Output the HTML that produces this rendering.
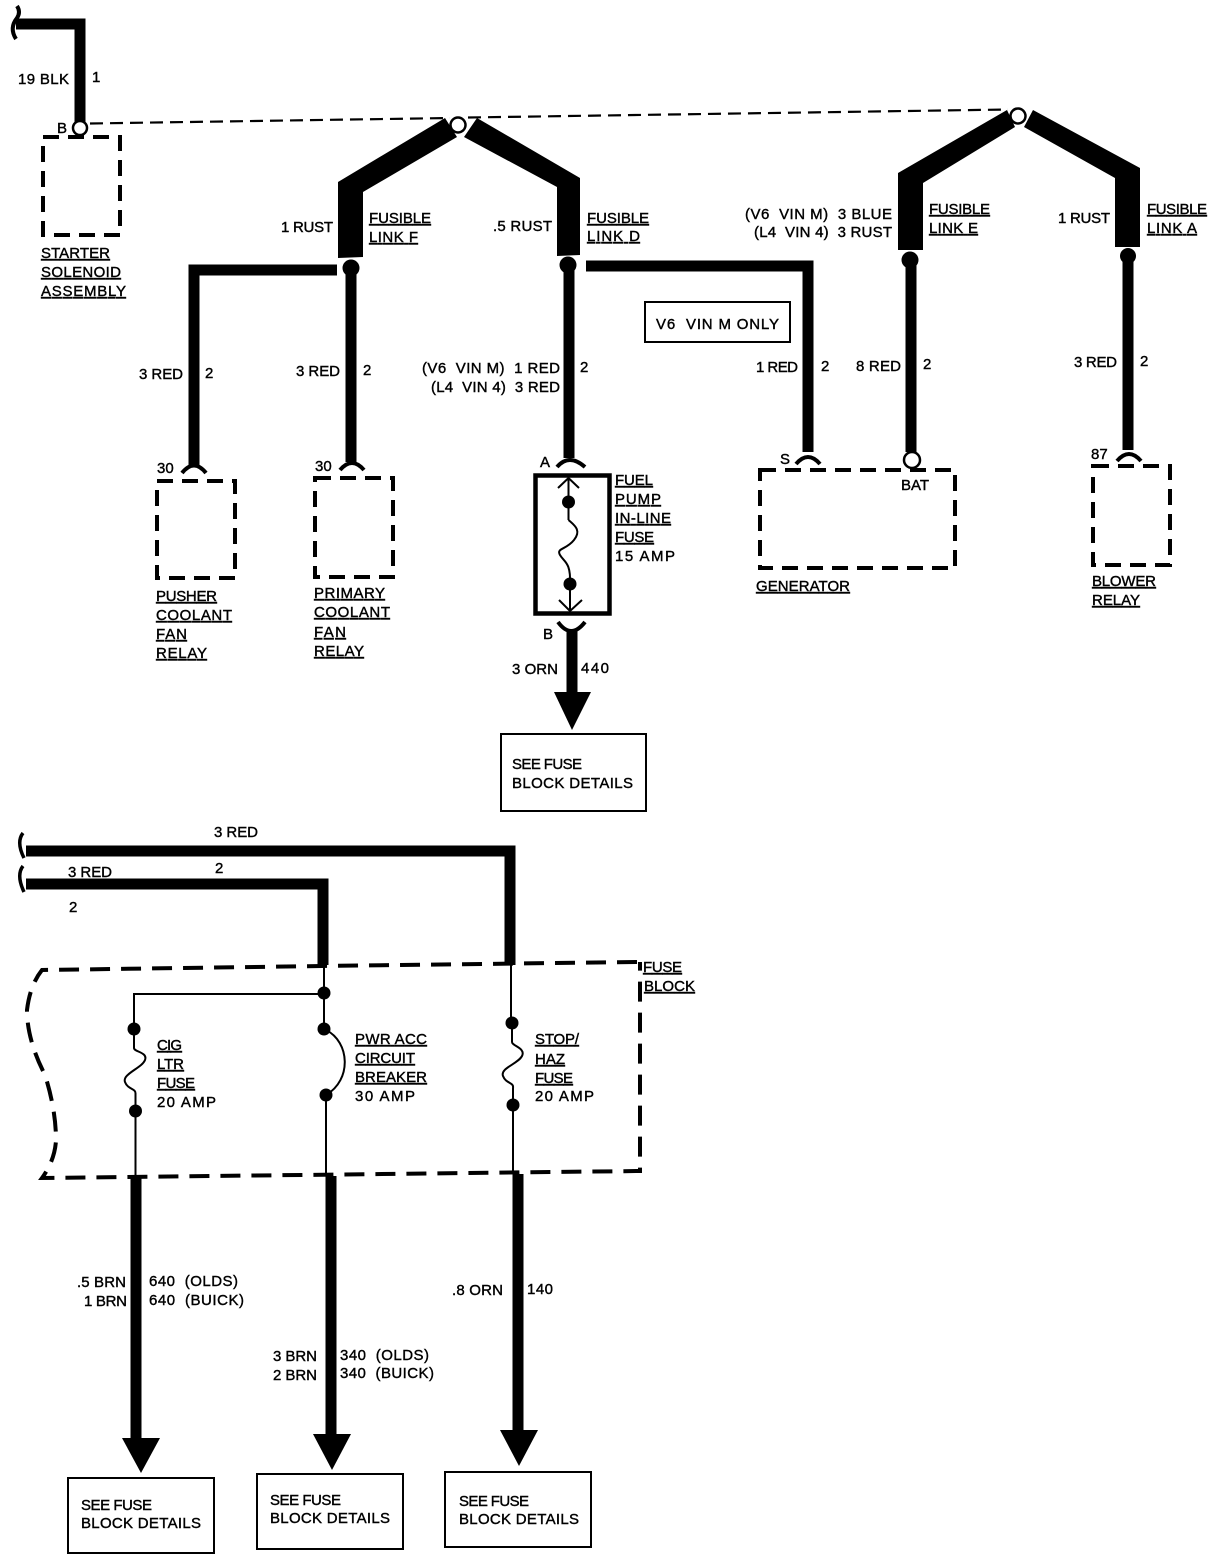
<!DOCTYPE html>
<html><head><meta charset="utf-8"><style>
html,body{margin:0;padding:0;background:#fff}
svg{display:block}
text{font-family:"Liberation Sans",sans-serif;font-size:15px;fill:#000;font-weight:400;stroke:#000;stroke-width:.4px;white-space:pre}
.u{text-decoration:underline}
</style></head><body>
<svg width="1216" height="1560" viewBox="0 0 1216 1560" xmlns="http://www.w3.org/2000/svg">
<g fill="none" stroke="#000" stroke-linejoin="miter">
<!-- top left -->
<path d="M16 24H80V122" stroke-width="11"/>
<path d="M17 6Q21 12 17 18Q9 28 16 39" stroke-width="4"/>
<!-- dashed line -->
<path d="M90 123.5L450 118M468 117.5L1008 109.5" stroke-width="2.2" stroke-dasharray="13 7"/>
<!-- wires -->
<path d="M337 270H194V466" stroke-width="11"/>
<path d="M351 268V462" stroke-width="11"/>
<path d="M569 268V458" stroke-width="11"/>
<path d="M586 266H808V452" stroke-width="11"/>
<path d="M911 262V452" stroke-width="11"/>
<path d="M1128 256V450" stroke-width="11"/>
<!-- caps -->
<path d="M182 473Q194 458 206 473M340 470Q352 456 364 470M557 467Q569 453 585 467M796 464Q808 450 820 464M1117 461Q1129 447 1141 461" stroke-width="4"/>
<!-- dashed comps -->
<g stroke-width="4" stroke-dasharray="16 9">
<rect x="43" y="137" width="77" height="98"/>
<rect x="157" y="481" width="78" height="97"/>
<rect x="315" y="478" width="78" height="99"/>
<rect x="760" y="470" width="195" height="98"/>
<rect x="1093" y="466" width="77" height="99"/>
</g>
<!-- inline fuse -->
<rect x="535.5" y="475.5" width="74" height="138" stroke-width="4.5"/>
<path d="M568.5 478V520M570 584V612" stroke-width="2"/>
<path d="M568.5 520C574 525 582 530 574 540S556 548 560 555S571 562 570 584" stroke-width="2"/>
<path d="M558 488L568.5 478L579 488M559 600L570 611L582 600" stroke-width="2"/>
<path d="M558 622Q571 640 585 622" stroke-width="4"/>
<path d="M572 630V695" stroke-width="11"/>
<!-- see boxes -->
<rect x="501" y="734" width="145" height="77" stroke-width="2"/>
<rect x="68" y="1478" width="146" height="75" stroke-width="2"/>
<rect x="257" y="1474" width="146" height="75" stroke-width="2"/>
<rect x="445" y="1472" width="146" height="75" stroke-width="2"/>
<rect x="645" y="302" width="145" height="40" stroke-width="2"/>
<!-- lower -->
<path d="M26 851H510V965" stroke-width="11"/>
<path d="M26 884H323V965" stroke-width="11"/>
<path d="M23 833Q16 842 24 858M23 866Q16 875 24 892" stroke-width="3.5"/>
<path d="M637 962L322 966L42 970Q30 985 27 1010Q27 1040 45 1075Q56 1110 56 1140Q55 1160 42 1178L640 1171V962" stroke-width="4" stroke-dasharray="20 11"/>
<path d="M324 994H134V1029" stroke-width="2"/>
<path d="M324 966V1029M511 965V1022" stroke-width="2"/>
<path d="M134 1029V1048C134 1052 148 1052 145 1060S122 1074 125 1082S136 1088 135.500 1094V1178" stroke-width="2"/>
<path d="M326 1030C350 1042 352 1080 326 1095V1176" stroke-width="2"/>
<path d="M512 1024V1042C512 1046 526 1048 522 1056S500 1068 503 1076S514 1082 513 1088V1174" stroke-width="2"/>
<path d="M136 1178V1442" stroke-width="11"/>
<path d="M331 1176V1436" stroke-width="11"/>
<path d="M518 1174V1434" stroke-width="11"/>
</g>
<g fill="#000">
<!-- fusible chevrons -->
<path d="M338 182L445 118L457 137L363 192V257L338 258Z"/>
<path d="M477 118L580 178V255L557 256V187L464 137Z"/>
<path d="M898 173L1007 110L1015 127L923 183V250H898Z"/>
<path d="M1033 110L1140 168V247H1115V178L1024 127Z"/>
</g>
<g fill="#fff" stroke="#000" stroke-width="2.5">
<circle cx="80" cy="128" r="7"/><circle cx="458" cy="125" r="7.500"/><circle cx="1018" cy="116" r="7.500"/><circle cx="912" cy="460" r="8"/>
</g>
<g fill="#000">
<circle cx="351" cy="268" r="8.500"/><circle cx="568" cy="265" r="8.500"/><circle cx="910" cy="260" r="8.500"/><circle cx="1128" cy="256" r="8"/>
<circle cx="568.500" cy="502" r="6.500"/><circle cx="570" cy="584" r="6.500"/>
<circle cx="324" cy="993" r="6.500"/><circle cx="324" cy="1029" r="6.500"/><circle cx="326" cy="1095" r="6.500"/>
<circle cx="134" cy="1029" r="6.500"/><circle cx="135.500" cy="1111" r="6.500"/><circle cx="512" cy="1023" r="6.500"/><circle cx="513" cy="1105" r="6.500"/>
<path d="M554 692H591L572 730Z"/><path d="M122 1438H160L141 1473Z"/><path d="M313 1434H351L332 1470Z"/><path d="M500 1430H538L519 1466Z"/>
</g>
<text x="18" y="84" textLength="51">19 BLK</text><text x="92" y="82">1</text><text x="57" y="133">B</text>
<text x="41" y="258" class="u" textLength="69">STARTER</text><text x="41" y="277" class="u" textLength="80">SOLENOID</text><text x="41" y="296" class="u" textLength="85">ASSEMBLY</text>
<text x="281" y="232" textLength="52">1 RUST</text><text x="369" y="223" class="u" textLength="62">FUSIBLE</text><text x="369" y="242" class="u" textLength="49">LINK F</text>
<text x="493" y="231" textLength="59">.5 RUST</text><text x="587" y="223" class="u" textLength="62">FUSIBLE</text><text x="587" y="241" class="u" textLength="53">LINK D</text>
<text x="745" y="219" textLength="147">(V6  VIN M)  3 BLUE</text><text x="754" y="237" textLength="138">(L4  VIN 4)  3 RUST</text>
<text x="929" y="214" class="u" textLength="61">FUSIBLE</text><text x="929" y="233" class="u" textLength="49">LINK E</text>
<text x="1058" y="223" textLength="52">1 RUST</text><text x="1147" y="214" class="u" textLength="60">FUSIBLE</text><text x="1147" y="233" class="u" textLength="50">LINK A</text>
<text x="656" y="329" textLength="123">V6  VIN M ONLY</text>
<text x="139" y="379" textLength="44">3 RED</text><text x="205" y="378">2</text>
<text x="296" y="376" textLength="44">3 RED</text><text x="363" y="375">2</text>
<text x="422" y="373" textLength="138">(V6  VIN M)  1 RED</text><text x="431" y="392" textLength="129">(L4  VIN 4)  3 RED</text><text x="580" y="372">2</text>
<text x="756" y="372" textLength="42">1 RED</text><text x="821" y="371">2</text>
<text x="856" y="371" textLength="45">8 RED</text><text x="923" y="369">2</text>
<text x="1074" y="367" textLength="43">3 RED</text><text x="1140" y="366">2</text>
<text x="157" y="473">30</text><text x="315" y="471">30</text><text x="540" y="467">A</text><text x="780" y="464">S</text><text x="1091" y="459">87</text><text x="901" y="490">BAT</text>
<text x="156" y="601" class="u" textLength="61">PUSHER</text><text x="156" y="620" class="u" textLength="76">COOLANT</text><text x="156" y="639" class="u" textLength="31">FAN</text><text x="156" y="658" class="u" textLength="51">RELAY</text>
<text x="314" y="598" class="u" textLength="71">PRIMARY</text><text x="314" y="617" class="u" textLength="76">COOLANT</text><text x="314" y="637" class="u" textLength="32">FAN</text><text x="314" y="656" class="u" textLength="50">RELAY</text>
<text x="615" y="485" class="u" textLength="38">FUEL</text><text x="615" y="504" class="u" textLength="46">PUMP</text><text x="615" y="523" class="u" textLength="56">IN-LINE</text><text x="615" y="542" class="u" textLength="39">FUSE</text><text x="615" y="561" textLength="60">15 AMP</text>
<text x="756" y="591" class="u" textLength="94">GENERATOR</text>
<text x="1092" y="586" class="u" textLength="64">BLOWER</text><text x="1092" y="605" class="u" textLength="48">RELAY</text>
<text x="543" y="639">B</text><text x="512" y="674" textLength="46">3 ORN</text><text x="581" y="673" textLength="28">440</text>
<text x="512" y="769" textLength="70">SEE FUSE</text><text x="512" y="788" textLength="121">BLOCK DETAILS</text>
<text x="214" y="837" textLength="44">3 RED</text><text x="68" y="877" textLength="44">3 RED</text><text x="215" y="873">2</text><text x="69" y="912">2</text>
<text x="643" y="972" class="u" textLength="39">FUSE</text><text x="644" y="991" class="u" textLength="51">BLOCK</text>
<text x="157" y="1050" class="u" textLength="25">CIG</text><text x="157" y="1069" class="u" textLength="27">LTR</text><text x="157" y="1088" class="u" textLength="38">FUSE</text><text x="157" y="1107" textLength="59">20 AMP</text>
<text x="355" y="1044" class="u" textLength="72">PWR ACC</text><text x="355" y="1063" class="u" textLength="60">CIRCUIT</text><text x="355" y="1082" class="u" textLength="72">BREAKER</text><text x="355" y="1101" textLength="60">30 AMP</text>
<text x="535" y="1044" class="u" textLength="44">STOP/</text><text x="535" y="1064" class="u" textLength="30">HAZ</text><text x="535" y="1083" class="u" textLength="38">FUSE</text><text x="535" y="1101" textLength="59">20 AMP</text>
<text x="77" y="1287" textLength="49">.5 BRN</text><text x="84" y="1306" textLength="43">1 BRN</text><text x="149" y="1286" textLength="89">640  (OLDS)</text><text x="149" y="1305" textLength="95">640  (BUICK)</text>
<text x="273" y="1361" textLength="44">3 BRN</text><text x="273" y="1380" textLength="44">2 BRN</text><text x="340" y="1360" textLength="89">340  (OLDS)</text><text x="340" y="1378" textLength="94">340  (BUICK)</text>
<text x="452" y="1295" textLength="51">.8 ORN</text><text x="527" y="1294" textLength="26">140</text>
<text x="81" y="1510" textLength="71">SEE FUSE</text><text x="81" y="1528" textLength="120">BLOCK DETAILS</text>
<text x="270" y="1505" textLength="71">SEE FUSE</text><text x="270" y="1523" textLength="120">BLOCK DETAILS</text>
<text x="459" y="1506" textLength="70">SEE FUSE</text><text x="459" y="1524" textLength="120">BLOCK DETAILS</text>
</svg>
</body></html>
